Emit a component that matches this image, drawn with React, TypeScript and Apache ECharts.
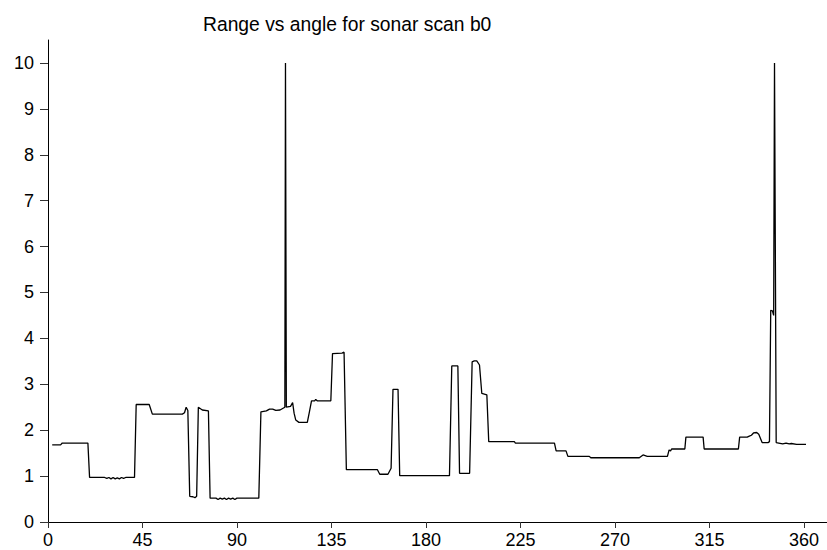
import React, { useEffect, useRef } from "react";
import * as echarts from "echarts";

const titleText = "Range vs angle for sonar scan b0";
const xTicks = [0, 45, 90, 135, 180, 225, 270, 315, 360];
const yTicks = [0, 1, 2, 3, 4, 5, 6, 7, 8, 9, 10];

const angles = [
  2, 6, 6.8, 19.0, 19.8, 27, 28, 29, 30, 31, 32, 33, 34, 35, 36, 37, 41.2, 42.0,
  48.2, 49.7, 64.0, 65.0, 65.8, 66.6, 67.5, 69, 70, 70.8, 71.6, 73.5, 76.4, 77.2,
  80, 81, 82, 83, 84, 85, 86, 87, 88, 89, 90, 91, 100.4, 101.4, 104, 105.5, 107,
  108.5, 110.5, 112.8, 113.1, 113.5, 115.5, 116.5, 117.2, 118, 119.5, 123.5, 124.5,
  125.5, 127, 127.5, 128.2, 134.7, 135.5, 140, 141.0, 142.1, 156.9, 158, 161.9,
  163.4, 164.3, 166.7, 167.5, 191.2, 192.3, 195.2, 196, 200.8, 202, 203, 204.2,
  205.5, 206.6, 209, 209.9, 222.1, 222.6, 241.2, 242, 246.7, 247.6, 257.8, 258.5,
  281.6, 283.4, 285.4, 295, 295.8, 296.5, 297, 303.3, 303.8, 312, 312.5, 328.8,
  329.4, 333, 334, 335, 336, 337.5, 338.5, 340.1, 342.9, 343.6, 344.2, 345, 345.6,
  346, 346.3, 346.8, 348, 349.9, 351.5, 353, 354, 356.5, 361,
];
const ranges = [
  1.68, 1.68, 1.72, 1.72, 0.97, 0.97, 0.95, 0.97, 0.94, 0.97, 0.94, 0.96, 0.94, 0.97,
  0.95, 0.97, 0.97, 2.56, 2.56, 2.35, 2.35, 2.38, 2.5, 2.43, 0.56, 0.55, 0.53, 0.56,
  2.5, 2.44, 2.42, 0.52, 0.52, 0.49, 0.52, 0.5, 0.52, 0.49, 0.52, 0.5, 0.52, 0.49,
  0.52, 0.52, 0.52, 2.4, 2.42, 2.46, 2.46, 2.43, 2.44, 2.5, 10, 2.5, 2.52, 2.6, 2.37,
  2.22, 2.17, 2.17, 2.4, 2.64, 2.64, 2.67, 2.64, 2.64, 3.67, 3.68, 3.7, 1.14, 1.14,
  1.04, 1.04, 1.17, 2.89, 2.89, 1.01, 1.01, 3.4, 3.4, 1.06, 1.06, 3.49, 3.51, 3.51,
  3.42, 2.8, 2.77, 1.75, 1.75, 1.72, 1.72, 1.55, 1.55, 1.43, 1.43, 1.4, 1.4, 1.46,
  1.43, 1.43, 1.57, 1.55, 1.59, 1.59, 1.85, 1.85, 1.59, 1.59, 1.85, 1.85, 1.87, 1.89,
  1.94, 1.95, 1.91, 1.73, 1.73, 1.75, 4.61, 4.6, 4.5, 10, 10, 1.73, 1.72, 1.7, 1.72,
  1.7, 1.71, 1.69, 1.69,
];

const FONT = "'Liberation Sans', Arial, sans-serif";

export default function App() {
  const ref = useRef<HTMLDivElement>(null);
  useEffect(() => {
    if (!ref.current) return;
    const chart = echarts.init(ref.current, null, { renderer: "svg" });
    const data = angles.map((a, i) => [a, ranges[i]]);
    chart.setOption({
      animation: false,
      backgroundColor: "#fff",
      title: {
        text: titleText,
        left: 203,
        top: 15,
        padding: 0,
        textStyle: { fontFamily: FONT, fontSize: 19.3, fontWeight: "normal", color: "#000" },
      },
      grid: { left: 48, right: 0, top: 40, bottom: 28, containLabel: false },
      xAxis: {
        type: "value",
        min: 0,
        max: 371,
        splitLine: { show: false },
        axisLine: { show: true, onZero: false, lineStyle: { color: "#000", width: 1 } },
        axisTick: { show: true, length: 6, customValues: xTicks, lineStyle: { color: "#333" } },
        axisLabel: {
          customValues: xTicks,
          margin: 9,
          fontFamily: FONT,
          fontSize: 18,
          color: "#000",
        },
      },
      yAxis: {
        type: "value",
        min: 0,
        max: 10.5,
        splitLine: { show: false },
        axisLine: { show: true, onZero: false, lineStyle: { color: "#000", width: 1 } },
        axisTick: { show: true, length: 8, customValues: yTicks, lineStyle: { color: "#333" } },
        axisLabel: {
          customValues: yTicks,
          margin: 14,
          fontFamily: FONT,
          fontSize: 18,
          color: "#000",
        },
      },
      series: [
        {
          type: "line",
          data,
          showSymbol: false,
          symbol: "none",
          lineStyle: { color: "#000", width: 1.3 },
          silent: true,
        },
      ],
    });
    return () => chart.dispose();
  }, []);
  return (
    <div
      ref={ref}
      style={{ position: "absolute", left: 0, top: 0, width: 827, height: 550, background: "#fff" }}
    />
  );
}
